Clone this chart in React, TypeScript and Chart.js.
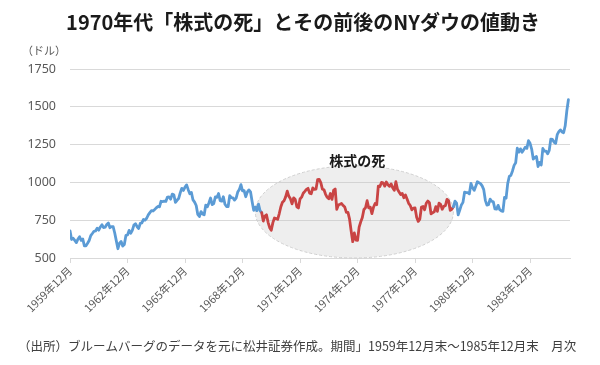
import React, { useEffect, useRef } from "react";
import { Chart, registerables } from "chart.js";

Chart.register(...registerables);

const TITLE = "1970年代「株式の死」とその前後のNYダウの値動き";
const UNIT_LABEL = "（ドル）";
const SOURCE_NOTE = "（出所）ブルームバーグのデータを元に松井証券作成。期間」1959年12月末～1985年12月末　月次";
const ELLIPSE_LABEL = "株式の死";

// NY Dow monthly closes, Dec 1959 .. Dec 1969
const DOW_1959_1969 = [
  679.36,
  622.62, 630.12, 616.59, 601.70, 625.50, 640.62, 616.73, 625.99, 580.14, 580.36, 597.22, 615.89,
  648.20, 662.08, 676.63, 678.71, 696.72, 683.96, 705.37, 719.94, 701.21, 703.92, 721.60, 731.14,
  700.00, 708.05, 706.95, 665.33, 613.36, 561.28, 597.93, 609.18, 578.98, 589.77, 649.30, 652.10,
  682.85, 662.94, 682.52, 717.70, 726.96, 706.88, 695.43, 729.32, 732.79, 755.23, 750.52, 762.95,
  785.34, 800.14, 813.29, 810.77, 820.56, 831.50, 841.10, 838.48, 875.37, 873.08, 875.43, 874.13,
  902.86, 903.48, 889.05, 922.31, 918.04, 868.03, 881.74, 893.10, 930.58, 960.82, 946.71, 969.26,
  983.51, 951.89, 924.77, 933.68, 884.07, 870.10, 847.38, 788.41, 774.22, 807.07, 791.59, 785.69,
  849.89, 839.37, 865.98, 897.05, 852.56, 860.26, 904.24, 901.29, 926.66, 879.74, 875.81, 905.11,
  855.47, 840.50, 840.67, 912.22, 899.00, 897.80, 883.00, 896.01, 935.79, 952.39, 985.08, 943.75,
  946.05, 905.21, 935.48, 950.18, 937.56, 873.19, 815.47, 836.72, 813.09, 855.99, 812.30, 800.36,
];

// Jan 1970 .. Dec 1979 ("株式の死")
const DOW_1970_1979 = [
  744.06, 777.59, 785.57, 736.07, 700.44, 683.53, 734.12, 764.58, 760.68, 755.61, 794.09, 838.92,
  868.50, 878.83, 904.37, 941.75, 907.81, 891.14, 858.43, 898.07, 887.19, 839.00, 831.34, 890.20,
  902.17, 928.13, 940.70, 954.17, 960.72, 929.03, 924.74, 963.73, 953.27, 955.52, 1018.21, 1020.02,
  999.02, 955.07, 951.01, 921.43, 901.41, 891.71, 926.40, 887.57, 947.10, 956.58, 822.25, 850.86,
  855.55, 860.53, 846.68, 836.75, 802.17, 802.41, 757.43, 678.58, 607.87, 665.52, 618.66, 616.24,
  703.69, 739.05, 768.15, 821.34, 832.29, 878.99, 831.51, 835.34, 793.88, 836.04, 860.67, 852.41,
  975.28, 972.61, 999.45, 996.85, 975.23, 1002.78, 984.64, 973.74, 990.19, 964.93, 947.22, 1004.65,
  954.37, 936.42, 919.13, 926.90, 898.66, 916.30, 890.07, 861.49, 847.11, 818.35, 829.70, 831.17,
  769.92, 742.12, 757.36, 837.32, 840.61, 818.95, 862.27, 876.82, 865.82, 792.45, 799.03, 805.01,
  839.22, 808.82, 862.18, 854.90, 822.33, 841.98, 846.42, 887.63, 878.58, 815.70, 822.35, 838.74,
];

// Jan 1980 .. Dec 1985
const DOW_1980_1985 = [
  875.85, 863.14, 785.75, 817.06, 850.85, 867.92, 935.32, 932.59, 932.42, 924.49, 993.34, 963.99,
  947.27, 974.58, 1003.87, 997.75, 991.75, 976.88, 952.34, 881.47, 849.98, 852.55, 888.98, 875.00,
  871.10, 824.39, 822.77, 848.36, 819.54, 811.93, 808.60, 901.31, 896.25, 991.72, 1039.28, 1046.54,
  1075.70, 1112.62, 1130.03, 1226.20, 1199.98, 1221.96, 1199.22, 1215.96, 1233.13, 1225.20, 1276.02, 1258.64,
  1220.58, 1154.63, 1164.89, 1170.75, 1104.85, 1132.40, 1115.28, 1224.38, 1206.71, 1207.38, 1188.94, 1211.57,
  1286.77, 1284.01, 1266.78, 1258.06, 1315.41, 1335.46, 1347.45, 1334.01, 1328.63, 1374.31, 1472.13, 1546.67,
];

const X_TICK_INDICES = [0, 36, 72, 108, 144, 180, 216, 252, 288];
const X_TICK_LABELS = [
  "1959年12月", "1962年12月", "1965年12月", "1968年12月", "1971年12月",
  "1974年12月", "1977年12月", "1980年12月", "1983年12月",
];
const Y_MIN = 500;
const Y_MAX = 1750;
const Y_STEP = 250;

const ALL_VALUES = [...DOW_1959_1969, ...DOW_1970_1979, ...DOW_1980_1985];
const RED_START = DOW_1959_1969.length - 1;
const RED_END = RED_START + DOW_1970_1979.length;

// ellipse bounds expressed in data units
const ELLIPSE_FROM = 116;
const ELLIPSE_TO = 240;
const ELLIPSE_TOP = 1110;
const ELLIPSE_BOTTOM = 500;

const BLUE = "#5B9BD5";
const RED = "#C94444";
const GRID = "#D9D9D9";
const JP = "'Noto Sans CJK JP', 'Noto Sans', sans-serif";

const decorPlugin = {
  id: "decor",
  beforeDatasetsDraw(chart: any) {
    const { ctx, scales } = chart;
    const x0 = scales.x.getPixelForValue(ELLIPSE_FROM);
    const x1 = scales.x.getPixelForValue(ELLIPSE_TO);
    const y0 = scales.y.getPixelForValue(ELLIPSE_TOP);
    const y1 = scales.y.getPixelForValue(ELLIPSE_BOTTOM);
    ctx.save();
    ctx.beginPath();
    ctx.ellipse((x0 + x1) / 2, (y0 + y1) / 2, (x1 - x0) / 2, (y1 - y0) / 2, 0, 0, Math.PI * 2);
    ctx.fillStyle = "rgba(200,200,200,0.3)";
    ctx.fill();
    ctx.setLineDash([3, 2]);
    ctx.lineWidth = 1;
    ctx.strokeStyle = "#CFCFCF";
    ctx.stroke();
    ctx.restore();
  },
  afterDraw(chart: any) {
    const { ctx, scales } = chart;
    ctx.save();
    ctx.textBaseline = "middle";
    ctx.fillStyle = "#1a1a1a";
    ctx.textAlign = "center";
    ctx.font = `bold 20px ${JP}`;
    ctx.fillText(TITLE, 303, 22);

    ctx.textAlign = "left";
    ctx.fillStyle = "#595959";
    ctx.font = `11px ${JP}`;
    ctx.fillText(UNIT_LABEL, 22, 51);

    ctx.fillStyle = "#404040";
    ctx.font = `12.5px ${JP}`;
    ctx.fillText(SOURCE_NOTE, 18, 346);

    const x0 = scales.x.getPixelForValue(ELLIPSE_FROM);
    const x1 = scales.x.getPixelForValue(ELLIPSE_TO);
    const y0 = scales.y.getPixelForValue(ELLIPSE_TOP);
    ctx.textAlign = "center";
    ctx.fillStyle = "#1a1a1a";
    ctx.font = `bold 14px ${JP}`;
    ctx.fillText(ELLIPSE_LABEL, (x0 + x1) / 2 + 3, y0 - 5);
    ctx.restore();
  },
};

export default function App() {
  const ref = useRef<HTMLCanvasElement | null>(null);
  useEffect(() => {
    document.body.style.margin = "0";
    const canvas = ref.current;
    if (!canvas) return;
    const chart = new Chart(canvas, {
      type: "line",
      data: {
        datasets: [
          {
            data: ALL_VALUES.map((v, i) => ({ x: i, y: v })),
            borderColor: BLUE,
            borderWidth: 2.8,
            borderJoinStyle: "round",
            borderCapStyle: "round",
            pointRadius: 0,
            tension: 0,
            fill: false,
            segment: {
              borderColor: (c: any) =>
                c.p0DataIndex >= RED_START && c.p1DataIndex <= RED_END ? RED : BLUE,
            },
          },
        ],
      },
      options: {
        animation: false,
        responsive: false,
        devicePixelRatio: 1,
        layout: { padding: { top: 69, right: 30, left: 0, bottom: 0 } },
        plugins: { legend: { display: false }, tooltip: { enabled: false }, title: { display: false } },
        scales: {
          x: {
            type: "linear",
            min: 0,
            max: 313,
            afterBuildTicks: (s: any) => {
              s.ticks = X_TICK_INDICES.map((v) => ({ value: v }));
            },
            afterFit: (s: any) => {
              s.height = 107;
            },
            ticks: {
              autoSkip: false,
              maxRotation: 45,
              minRotation: 45,
              padding: 1,
              color: "#595959",
              font: { size: 11, family: JP },
              callback: (_v: any, i: number) => X_TICK_LABELS[i],
            },
            grid: { drawOnChartArea: false, drawTicks: true, tickLength: 5, color: GRID },
            border: { display: true, color: GRID },
          },
          y: {
            min: Y_MIN,
            max: Y_MAX,
            afterFit: (s: any) => {
              s.width = 70;
            },
            ticks: {
              stepSize: Y_STEP,
              padding: 14,
              color: "#595959",
              font: { size: 12.5, family: "'Noto Sans', sans-serif" },
              callback: (v: any) => String(v),
            },
            grid: { color: GRID, drawTicks: false },
            border: { display: false },
          },
        },
      },
      plugins: [decorPlugin],
    });
    return () => chart.destroy();
  }, []);
  return <canvas ref={ref} width={600} height={365} style={{ display: "block", width: 600, height: 365 }} />;
}
